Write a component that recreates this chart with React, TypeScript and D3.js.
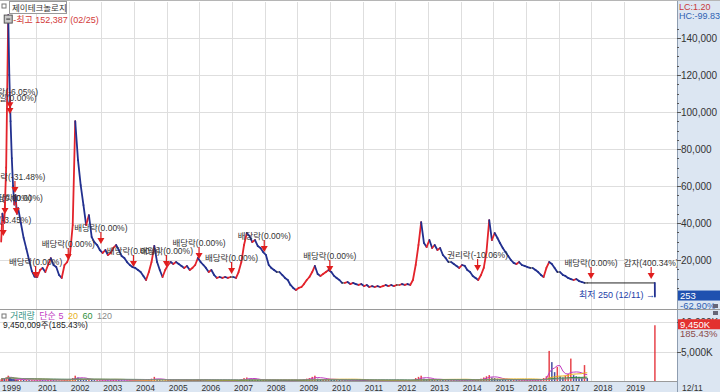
import React, { useEffect, useRef } from "react";
import * as d3 from "d3";

const stockName = "제이테크놀로지";

// listing period, roughly weekly closes (won) and volume (thousand shares)
const earlyDates = ["1999-12-08", "1999-12-22", "2000-01-12", "2000-02-02", "2000-02-25", "2000-03-08", "2000-03-22",
  "2000-04-05", "2000-04-19", "2000-05-03", "2000-05-17", "2000-06-01", "2000-06-15"];
const earlyClose = [30000, 45000, 40000, 70000, 152387, 120000, 95000, 75000, 60000, 50000, 55000, 45000, 48000];
const earlyVolume = [300, 500, 400, 600, 900, 700, 500, 400, 350, 300, 300, 250, 250];

// monthly closes 2000-07 .. 2017-11
const monthlyStart = "2000-07-15";
const monthlyClose = [
  40000, 32000, 26000, 20000, 14000, 11000,
  10800, 14600, 15700, 13500, 17300, 21000, 17300, 16200, 11900, 10300, 17300, 18900,
  22700, 38900, 95000, 74000, 60500, 49700, 38900, 44300, 32400, 29700, 28100, 25400,
  23800, 25400, 22700, 23800, 26500, 28100, 25400, 22200, 21100, 18900, 17300, 16200,
  15700, 14600, 13500, 11400, 9200, 13500, 18900, 27600, 18900, 14600, 10800, 14600,
  17300, 18900, 17800, 18900, 17800, 16800, 15700, 16800, 14600, 15700, 17300, 21100,
  18900, 17300, 15700, 13500, 14600, 11900, 10300, 10800, 10300, 10800, 10300, 10800,
  10800, 10300, 13500, 18900, 28100, 34600, 33000, 29700, 30800, 27600, 26500, 24300,
  22700, 17300, 15700, 14600, 13500, 13500, 11900, 10300, 9200, 6500, 4900, 3800,
  4900, 5400, 7000, 9200, 10800, 13500, 16800, 12400, 11400, 12400, 13500, 14600,
  13500, 11400, 10300, 9200, 7600, 7600, 8100, 7000, 7600, 7000, 6500, 7000,
  5900, 6500, 5400, 5900, 5400, 5900, 5400, 5900, 6500, 5900, 6500, 5900,
  6500, 6500, 7000, 6500, 7000, 6500, 9200, 17300, 28100, 40500, 29200, 27000,
  30800, 26500, 28100, 25400, 26500, 22700, 21100, 18900, 18900, 17800, 16800, 15700,
  17300, 16800, 14600, 13500, 11400, 10300, 9200, 11900, 15700, 24300, 41600, 30800,
  34600, 31900, 29200, 26500, 24300, 22200, 20000, 18400, 17800, 18900, 17300, 16800,
  16200, 15700, 15700, 14600, 13500, 11900, 10800, 15700, 18900, 17800, 15700, 13500,
  13500, 11900, 11400, 10300, 9700, 9200, 9700, 8600, 8100, 7600, 7600,
];
const monthlyVolume = [
  250, 200, 200, 150, 150, 150,
  150, 200, 150, 120, 180, 250, 150, 120, 100, 120, 200, 200,
  300, 500, 900, 600, 400, 300, 250, 300, 200, 150, 150, 150,
  150, 150, 120, 150, 200, 200, 150, 120, 100, 100, 100, 100,
  100, 100, 100, 100, 100, 200, 400, 700, 300, 150, 100, 120,
  150, 150, 120, 150, 100, 100, 100, 100, 80, 80, 100, 200,
  150, 120, 100, 100, 100, 80, 80, 60, 60, 60, 60, 60,
  60, 60, 150, 300, 500, 600, 400, 300, 300, 200, 150, 150,
  150, 100, 100, 80, 80, 80, 60, 60, 60, 80, 80, 80,
  150, 200, 300, 400, 500, 700, 900, 400, 300, 300, 300, 400,
  300, 200, 200, 150, 150, 120, 120, 100, 100, 100, 80, 80,
  80, 80, 60, 60, 60, 60, 60, 60, 80, 60, 60, 60,
  60, 60, 80, 60, 60, 60, 200, 500, 700, 900, 400, 300,
  400, 300, 300, 250, 250, 200, 200, 150, 150, 150, 120, 120,
  150, 150, 120, 120, 150, 200, 300, 400, 600, 800, 1000, 600,
  500, 400, 350, 300, 250, 250, 200, 200, 150, 150, 150, 150,
  150, 150, 150, 150, 200, 300, 500, 800, 5100, 3200, 1500, 2400,
  800, 600, 900, 1200, 3800, 1000, 800, 700, 600, 2700, 500,
];

// trading halt, then capital reduction day
const tailDates = ["2019-12-10", "2019-12-11"];
const tailClose = [7600, 253];
const tailVolume = [0, 9450];

// corporate events (ex-dates)
const eventDates = ["1999-12-31", "2000-01-20", "2000-03-15", "2000-03-15", "2000-05-10", "2000-05-25",
  "2000-12-27", "2001-12-27", "2002-12-27", "2003-12-26", "2004-12-28", "2005-12-28", "2006-12-27",
  "2007-12-27", "2009-12-29", "2014-07-08", "2017-12-27", "2019-10-30"];
const eventLabels = ["권리락(-3.45%)", "배당락(0.00%)", "권리락(-6.05%)", "기준일(0.00%)", "권리락(-31.48%)", "배당락(0.00%)",
  "배당락(0.00%)", "배당락(0.00%)", "배당락(0.00%)", "배당락(0.00%)", "배당락(0.00%)", "배당락(0.00%)", "배당락(0.00%)",
  "배당락(0.00%)", "배당락(0.00%)", "권리락(-10.06%)", "배당락(0.00%)", "감자(400.34%)"];
const eventLevels = [33000, 44900, 102000, 98900, 56200, 44900, 10300, 20000, 28600, 16200, 16200, 20500, 12400,
  24300, 13500, 14100, 9700, 9700];

const priceTicks = [20000, 40000, 60000, 80000, 100000, 120000, 140000];
const volumeTicks = [5000, 10000];
const yearLabels = [2001, 2002, 2003, 2004, 2005, 2006, 2007, 2008, 2009, 2010, 2011, 2012, 2013, 2014, 2015, 2016, 2017, 2018, 2019];
const maPeriods = [5, 20, 60, 120];
const maColors = ["#c23cc2", "#e8b21e", "#2f8f3a", "#8a8a8a"];

const FONT = '"Liberation Sans", "Noto Sans CJK KR", sans-serif';
const UP = "#e3232b";
const DOWN = "#22308f";
const FLAT = "#222";
const PANEL = "#dce6f2";

function drawChart(node) {
  const W = 720, H = 392;
  const plotR = 677;
  const priceTop = 2, priceBottom = 309;
  const volBottom = 381;
  const parse = d3.timeParse("%Y-%m-%d");

  const mStart = parse(monthlyStart);
  const rows = [];
  earlyDates.forEach((d, i) => rows.push({ date: parse(d), close: earlyClose[i], vol: earlyVolume[i] }));
  monthlyClose.forEach((c, i) => rows.push({ date: d3.timeMonth.offset(mStart, i), close: c, vol: monthlyVolume[i] }));
  tailDates.forEach((d, i) => rows.push({ date: parse(d), close: tailClose[i], vol: tailVolume[i] }));

  const x = d3.scaleTime().domain([new Date(1999, 10, 25), new Date(2020, 7, 14)]).range([0, plotR]);
  const yP = d3.scaleLinear().domain([0, 140000]).range([297, 38]);
  const yV = d3.scaleLinear().domain([0, 10000]).range([volBottom, 322]);

  const svg = d3.select(node).attr("width", W).attr("height", H)
    .style("position", "absolute").style("left", "0px").style("top", "0px").style("display", "block")
    .style("font-family", FONT);
  svg.selectAll("*").remove();

  svg.append("rect").attr("width", W).attr("height", H).attr("fill", "#fff");

  const defs = svg.append("defs");
  defs.append("clipPath").attr("id", "priceClip").append("rect")
    .attr("x", 0).attr("y", priceTop).attr("width", plotR).attr("height", priceBottom - priceTop);

  // grid
  const grid = svg.append("g").attr("stroke", "#dedede").attr("stroke-width", 1);
  yearLabels.forEach((yr) => {
    const gx = Math.round(x(new Date(yr, 0, 1))) + 0.5;
    grid.append("line").attr("x1", gx).attr("x2", gx).attr("y1", priceTop).attr("y2", volBottom);
  });
  priceTicks.forEach((t) => {
    const gy = Math.round(yP(t)) + 0.5;
    grid.append("line").attr("x1", 0).attr("x2", plotR).attr("y1", gy).attr("y2", gy);
  });
  volumeTicks.forEach((t) => {
    const gy = Math.round(yV(t)) + 0.5;
    grid.append("line").attr("x1", 0).attr("x2", plotR).attr("y1", gy).attr("y2", gy);
  });

  // side panel and date band
  svg.append("rect").attr("x", plotR).attr("y", 0).attr("width", W - plotR).attr("height", H).attr("fill", PANEL);
  svg.append("rect").attr("x", 0).attr("y", volBottom + 1).attr("width", plotR).attr("height", H - volBottom - 1).attr("fill", PANEL);
  svg.append("line").attr("x1", plotR + 0.5).attr("x2", plotR + 0.5).attr("y1", 0).attr("y2", H).attr("stroke", "#8e9db0");
  svg.append("line").attr("x1", 0).attr("x2", W).attr("y1", 0.5).attr("y2", 0.5).attr("stroke", "#b5b5b5");
  svg.append("line").attr("x1", 0).attr("x2", W).attr("y1", priceBottom + 0.5).attr("y2", priceBottom + 0.5).attr("stroke", "#9a9a9a");
  svg.append("line").attr("x1", 0).attr("x2", plotR).attr("y1", volBottom + 0.5).attr("y2", volBottom + 0.5).attr("stroke", "#9a9a9a");

  // volume bars (red when volume rises)
  const vg = svg.append("g");
  rows.forEach((r, i) => {
    if (!r.vol) return;
    const up = i === 0 || r.vol >= rows[i - 1].vol;
    vg.append("rect").attr("x", x(r.date) - 0.75).attr("width", 1.5)
      .attr("y", yV(r.vol)).attr("height", volBottom - yV(r.vol))
      .attr("fill", up ? UP : DOWN).attr("opacity", 0.85);
  });
  const traded = rows.slice(0, earlyDates.length + monthlyClose.length);
  maPeriods.forEach((p, k) => {
    const pts = traded.map((r, i) => {
      const win = traded.slice(Math.max(0, i - p + 1), i + 1);
      return [x(r.date), yV(d3.mean(win, (w) => w.vol))];
    });
    vg.append("path").attr("d", d3.line()(pts)).attr("fill", "none")
      .attr("stroke", maColors[k]).attr("stroke-width", 1);
  });

  // price line, coloured by direction
  const pg = svg.append("g").attr("clip-path", "url(#priceClip)");
  for (let i = 1; i < rows.length; i++) {
    const a = rows[i - 1], b = rows[i];
    const col = b.close > a.close ? UP : b.close < a.close ? DOWN : FLAT;
    pg.append("line")
      .attr("x1", x(a.date)).attr("y1", yP(a.close))
      .attr("x2", x(b.date)).attr("y2", yP(b.close))
      .attr("stroke", col)
      .attr("stroke-width", col === FLAT ? 1 : 1.8).attr("stroke-linecap", "round");
  }

  // event arrows
  const eg = svg.append("g").attr("clip-path", "url(#priceClip)");
  eventDates.forEach((d, i) => {
    const ex = x(parse(d));
    const tip = yP(eventLevels[i]);
    eg.append("text").attr("x", ex).attr("y", tip - 13).attr("text-anchor", "middle")
      .attr("font-size", 8.5).attr("fill", "#333").text(eventLabels[i]);
    eg.append("line").attr("x1", ex).attr("x2", ex).attr("y1", tip - 12).attr("y2", tip - 5)
      .attr("stroke", "#e01e1e").attr("stroke-width", 1.2);
    eg.append("path").attr("d", `M${ex - 3.5},${tip - 6}L${ex + 3.5},${tip - 6}L${ex},${tip}Z`).attr("fill", "#e01e1e");
  });

  // high / low marks
  const peak = rows.reduce((m, r) => (r.close > m.close ? r : m), rows[0]);
  const px = x(peak.date), py = yP(peak.close);
  svg.append("rect").attr("x", px - 4).attr("y", py).attr("width", 8).attr("height", 8)
    .attr("fill", "#c9c9c9").attr("stroke", "#555");
  svg.append("line").attr("x1", px - 2).attr("x2", px + 2).attr("y1", py + 4).attr("y2", py + 4).attr("stroke", "#333");
  svg.append("text").attr("x", px + 5).attr("y", py + 8).attr("font-size", 9).attr("fill", "#d23a3a")
    .text(`-최고 ${d3.format(",")(peak.close)} (${d3.timeFormat("%m/%d")(peak.date)})`);

  const last = rows[rows.length - 1];
  svg.append("text").attr("x", x(last.date)).attr("y", yP(last.close) + 1).attr("text-anchor", "end")
    .attr("font-size", 9).attr("fill", "#2440a8")
    .text(`최저 250 (${d3.timeFormat("%m/%d")(last.date)}) →`);

  // legends
  svg.append("rect").attr("x", 2).attr("y", 4).attr("width", 4).attr("height", 4).attr("fill", "none").attr("stroke", "#777");
  svg.append("rect").attr("x", 9.5).attr("y", 1.5).attr("width", 57).attr("height", 12).attr("fill", "#fff").attr("stroke", "#999");
  svg.append("text").attr("x", 12).attr("y", 11).attr("font-size", 8.5).attr("fill", "#333").text(stockName);

  svg.append("rect").attr("x", 2).attr("y", 314).attr("width", 4).attr("height", 4).attr("fill", "none").attr("stroke", "#777");
  const vl = svg.append("text").attr("x", 10).attr("y", 319).attr("font-size", 9);
  vl.append("tspan").attr("fill", "#3a9688").text("거래량 ");
  vl.append("tspan").attr("fill", maColors[0]).attr("dx", 2).text("단순 5 ");
  maPeriods.slice(1).forEach((p, k) => vl.append("tspan").attr("fill", maColors[k + 1]).attr("dx", 2).text(`${p} `));
  svg.append("text").attr("x", 3).attr("y", 328).attr("font-size", 8.5).attr("fill", "#222")
    .text(`${d3.format(",")(9450009)}주(185.43%)`);

  // right axis
  const ax = svg.append("g").attr("font-size", 10).attr("fill", "#333");
  d3.range(5000, 150000, 5000).forEach((t) => {
    const ty = Math.round(yP(t)) + 0.5;
    if (ty < priceTop + 20) return;
    ax.append("line").attr("x1", plotR).attr("x2", plotR + (t % 20000 === 0 ? 4 : 2)).attr("y1", ty).attr("y2", ty).attr("stroke", "#555");
  });
  priceTicks.forEach((t) => {
    ax.append("text").attr("x", plotR + 4).attr("y", yP(t) + 4).text(d3.format(",")(t));
  });
  volumeTicks.forEach((t) => {
    ax.append("line").attr("x1", plotR).attr("x2", plotR + 4).attr("y1", Math.round(yV(t)) + 0.5).attr("y2", Math.round(yV(t)) + 0.5).attr("stroke", "#555");
    ax.append("text").attr("x", plotR + 4).attr("y", yV(t) + 4).text(d3.format(",")(t) + "K");
  });
  svg.append("text").attr("x", plotR + 2).attr("y", 10).attr("font-size", 9).attr("fill", "#c83a3a").text("LC:1.20");
  svg.append("text").attr("x", plotR + 2).attr("y", 19).attr("font-size", 9).attr("fill", "#2f62b3").text("HC:-99.83");

  const cy = yP(last.close);
  svg.append("rect").attr("x", plotR + 1).attr("y", cy - 6).attr("width", W - plotR - 1).attr("height", 10).attr("fill", "#1f51b0");
  svg.append("text").attr("x", plotR + 3).attr("y", cy + 2.5).attr("font-size", 9.5).attr("fill", "#fff").text(d3.format(",")(last.close));
  svg.append("text").attr("x", plotR + 3).attr("y", cy + 12).attr("font-size", 9.5).attr("fill", "#2f62b3").text("-62.90%");

  const vy = yV(last.vol);
  svg.append("rect").attr("x", plotR + 1).attr("y", vy - 6).attr("width", W - plotR - 1).attr("height", 10).attr("fill", "#e3312f");
  svg.append("text").attr("x", plotR + 3).attr("y", vy + 2.5).attr("font-size", 9.5).attr("fill", "#fff").text(d3.format(",")(last.vol) + "K");
  svg.append("text").attr("x", plotR + 3).attr("y", vy + 12).attr("font-size", 9.5).attr("fill", "#8a4b4b").text("185.43%");
  [306, 313].forEach((by) => {
    svg.append("rect").attr("x", 713).attr("y", by - 2).attr("width", 5).attr("height", 4).attr("fill", "#667");
  });

  // date band
  const xb = svg.append("g").attr("font-size", 8.5).attr("fill", "#333");
  xb.append("text").attr("x", 2).attr("y", 391).text("1999");
  yearLabels.forEach((yr) => {
    xb.append("text").attr("x", x(new Date(yr, 0, 1)) + 2).attr("y", 391).text(yr);
  });
  xb.append("text").attr("x", plotR + 5).attr("y", 391).text(d3.timeFormat("%m/%d")(last.date));
}

export default function App() {
  const svgRef = useRef(null);
  useEffect(() => {
    drawChart(svgRef.current);
  }, []);
  return <svg ref={svgRef}></svg>;
}
